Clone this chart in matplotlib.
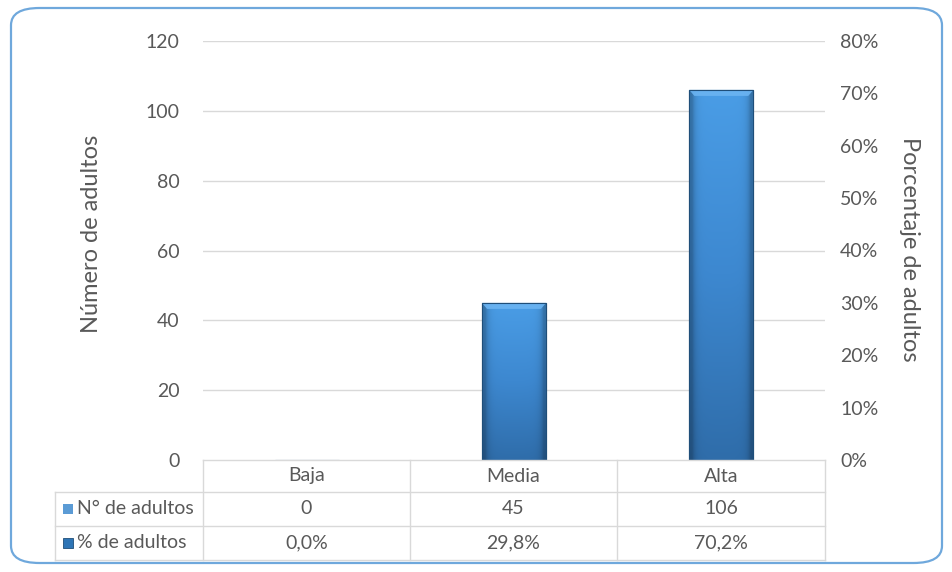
import numpy as np
import matplotlib
matplotlib.use("Agg")
import matplotlib.pyplot as plt
from matplotlib.patches import FancyBboxPatch, Rectangle
from matplotlib.colors import LinearSegmentedColormap

categories = ["Baja", "Media", "Alta"]
n_adultos = [0, 45, 106]
pct_adultos = [0.0, 29.8, 70.2]
row_labels = ["N° de adultos", "% de adultos"]
left_ticks = [0, 20, 40, 60, 80, 100, 120]
right_ticks = [0, 10, 20, 30, 40, 50, 60, 70, 80]

plt.rcParams['font.family'] = ['Lato', 'DejaVu Sans']
GREY = "#595959"
W, H = 953, 572
fig = plt.figure(figsize=(W / 100, H / 100), dpi=100)

# rounded border
border = FancyBboxPatch((11 / W, 9 / H), 931 / W, 555 / H,
                        boxstyle="round,pad=0,rounding_size=0.03",
                        transform=fig.transFigure, facecolor="none",
                        edgecolor="#6FA8DC", linewidth=1.6, zorder=10)
fig.patches.append(border)

x0, x1, y0, y1 = 203, 825, 41, 460
ax = fig.add_axes([x0 / W, 1 - y1 / H, (x1 - x0) / W, (y1 - y0) / H])
ax.set_facecolor("none")
ax.set_xlim(-0.5, len(categories) - 0.5)
ax.set_ylim(0, 120)
ax.set_yticks(left_ticks)
ax.set_yticklabels([str(t) for t in left_ticks], fontsize=14, color=GREY)
ax.tick_params(axis='y', length=0, pad=17)
ax.set_xticks([])
for s in ax.spines.values():
    s.set_visible(False)
for t in left_ticks[1:]:
    ax.axhline(t, color="#D9D9D9", linewidth=1, zorder=0)
ax.set_ylabel("Número de adultos", fontsize=17, color=GREY, va="center")
ax.yaxis.set_label_coords((92 - 203) / 622, (460 - 234) / 419)

ax2 = ax.twinx()
ax2.set_ylim(0, 80)
ax2.set_yticks(right_ticks)
ax2.set_yticklabels([f"{t}%" for t in right_ticks], fontsize=14, color=GREY)
ax2.tick_params(axis='y', length=0, pad=11)
for s in ax2.spines.values():
    s.set_visible(False)
ax2.set_ylabel("Porcentaje de adultos", fontsize=17, color=GREY, rotation=270, va="center")
ax2.yaxis.set_label_coords((910 - 203) / 622, (460 - 249) / 419)

# gradient bars
cmap_v = LinearSegmentedColormap.from_list("v", ["#2F6DAA", "#3D88D0", "#4A9DE6"])
bw = 0.31
bars = ax.bar(range(len(categories)), n_adultos, width=bw, color="#3D88D0",
              edgecolor="#1F4E79", linewidth=0.8, zorder=3)
for b, v in zip(bars, n_adultos):
    if v <= 0:
        continue
    xl, xr = b.get_x(), b.get_x() + b.get_width()
    ny, nx = 200, 60
    yy = np.linspace(0, 1, ny)[:, None]
    xx = np.linspace(0, 1, nx)[None, :]
    base = np.repeat(yy, nx, axis=1)
    img = cmap_v(base)
    edge = np.minimum(xx, 1 - xx)
    shade = np.clip(1 - np.exp(-edge / 0.05), 0.6, 1.0)
    img[..., :3] *= shade[..., None] ** 0.6
    im = ax.imshow(img, extent=[xl, xr, 0, v], origin="lower", aspect="auto", zorder=3.5)
    im.set_clip_path(b)
    # top bevel
    dy = 120 * 6 / 419
    ax.fill([xl, xr, xr - 0.025, xl + 0.025], [v, v, v - dy, v - dy],
            color="#6BB4F2", alpha=0.9, zorder=4, linewidth=0)
    ax.add_patch(Rectangle((xl, 0), xr - xl, v, fill=False, edgecolor="#1F4E79",
                           linewidth=0.8, zorder=5))
ax.set_xlim(-0.5, len(categories) - 0.5)

# data table (drawn in figure pixels)
def fx(px):
    return px / W

def fy(py):
    return 1 - py / H

lc = "#D9D9D9"
table_left = 55
col_edges = [203, 410, 617, 825]
row_edges = [460, 492, 526, 560]
lines = []
lines.append(([col_edges[0], col_edges[-1]], [row_edges[0]] * 2))
for r in row_edges[1:]:
    lines.append(([table_left, col_edges[-1]], [r, r]))
for c in col_edges:
    lines.append(([c, c], [row_edges[0], row_edges[-1]]))
lines.append(([table_left, table_left], [row_edges[1], row_edges[-1]]))
for xs, ys in lines:
    fig.add_artist(plt.Line2D([fx(v) for v in xs], [fy(v) for v in ys],
                              color=lc, linewidth=1, transform=fig.transFigure))

fs = 14
for i, c in enumerate(categories):
    cx = (col_edges[i] + col_edges[i + 1]) / 2
    fig.text(fx(cx), fy(476), c, ha="center", va="center", fontsize=fs, color=GREY)
    fig.text(fx(cx), fy(509), f"{n_adultos[i]}", ha="center", va="center", fontsize=fs, color=GREY)
    fig.text(fx(cx), fy(543), f"{pct_adultos[i]:.1f}%".replace(".", ","),
             ha="center", va="center", fontsize=fs, color=GREY)

# legend keys
fig.add_artist(Rectangle((fx(63), fy(514)), 10 / W, 10 / H, transform=fig.transFigure,
                         facecolor="#5B9BD5", edgecolor="none"))
fig.add_artist(Rectangle((fx(63), fy(548)), 10 / W, 10 / H, transform=fig.transFigure,
                         facecolor="#2E75B6", edgecolor="#1F4E79", linewidth=0.6))
fig.text(fx(77), fy(509), row_labels[0], ha="left", va="center", fontsize=fs, color=GREY)
fig.text(fx(77), fy(543), row_labels[1], ha="left", va="center", fontsize=fs, color=GREY)

fig.savefig("out.png", dpi=100)
